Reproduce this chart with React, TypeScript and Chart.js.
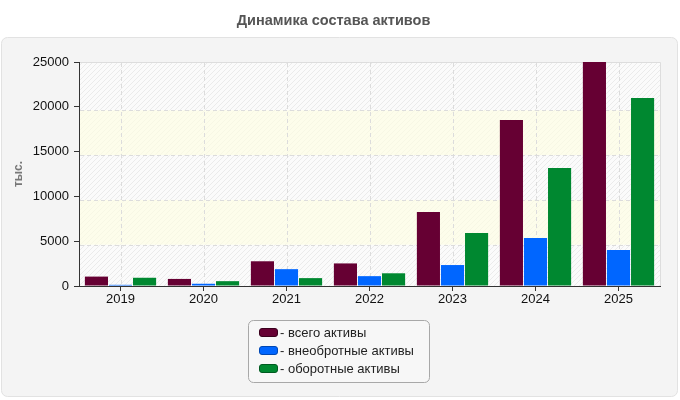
import React, { useEffect, useRef } from 'react';
import { Chart, registerables } from 'chart.js';

Chart.register(...registerables);

const chartTitle = 'Динамика состава активов';
const yAxisTitle = 'тыс.';
const years = ['2019', '2020', '2021', '2022', '2023', '2024', '2025'];
const seriesNames = ['всего активы', 'внеобротные активы', 'оборотные активы'];
const totalAssets = [1050, 790, 2760, 2520, 8260, 18530, 25000];
const nonCurrentAssets = [130, 250, 1880, 1100, 2340, 5360, 4020];
const currentAssets = [920, 540, 880, 1420, 5920, 13170, 20980];
const seriesColors = ['#660033', '#0066ff', '#008830'];
const seriesBorders = ['#3a001d', '#0047b3', '#005a20'];
const yMax = 25000;
const yStep = 5000;

const FONT = "'Liberation Sans', Arial, sans-serif";

function makeHatch(): CanvasPattern | string {
  const c = document.createElement('canvas');
  c.width = 5;
  c.height = 5;
  const g = c.getContext('2d');
  if (!g) return '#fafafa';
  g.fillStyle = '#fbfbfb';
  g.fillRect(0, 0, 5, 5);
  g.strokeStyle = '#ebebeb';
  g.lineWidth = 1;
  g.beginPath();
  g.moveTo(-1, 6);
  g.lineTo(6, -1);
  g.moveTo(-1, 1);
  g.lineTo(1, -1);
  g.moveTo(4, 6);
  g.lineTo(6, 4);
  g.stroke();
  const p = g.createPattern(c, 'repeat');
  return p || '#fafafa';
}

function rr(ctx: CanvasRenderingContext2D, x: number, y: number, w: number, h: number, r: number) {
  ctx.beginPath();
  ctx.moveTo(x + r, y);
  ctx.lineTo(x + w - r, y);
  ctx.arcTo(x + w, y, x + w, y + r, r);
  ctx.lineTo(x + w, y + h - r);
  ctx.arcTo(x + w, y + h, x + w - r, y + h, r);
  ctx.lineTo(x + r, y + h);
  ctx.arcTo(x, y + h, x, y + h - r, r);
  ctx.lineTo(x, y + r);
  ctx.arcTo(x, y, x + r, y, r);
  ctx.closePath();
}

const GRID_SHIFT = 3.5;

const backgroundPlugin = {
  id: 'bgPanel',
  beforeDraw(chart: any) {
    const ctx: CanvasRenderingContext2D = chart.ctx;
    const { left, right, top, bottom } = chart.chartArea;
    const ys = chart.scales.y;
    ctx.save();
    ctx.fillStyle = '#ffffff';
    ctx.fillRect(0, 0, chart.width, chart.height);
    rr(ctx, 1.5, 37.5, 676, 359, 6);
    ctx.fillStyle = '#f4f4f4';
    ctx.fill();
    ctx.strokeStyle = '#e2e2e2';
    ctx.lineWidth = 1;
    ctx.stroke();

    ctx.fillStyle = makeHatch();
    ctx.fillRect(left, top, right - left, bottom - top);

    const vals: number[] = [];
    for (let v = 0; v <= yMax; v += yStep) vals.push(v);
    for (let i = 1; i < vals.length - 1; i += 2) {
      const yLow = Math.min(bottom, ys.getPixelForValue(vals[i]) + GRID_SHIFT);
      const yHigh = Math.max(top, ys.getPixelForValue(vals[i + 1]) + GRID_SHIFT);
      ctx.fillStyle = 'rgba(255,255,225,0.6)';
      ctx.fillRect(left, yHigh, right - left, yLow - yHigh);
    }

    ctx.strokeStyle = '#dddddd';
    ctx.beginPath();
    ctx.moveTo(left, Math.round(top) + 0.5);
    ctx.lineTo(Math.round(right) + 0.5, Math.round(top) + 0.5);
    ctx.lineTo(Math.round(right) + 0.5, bottom);
    ctx.stroke();
    ctx.restore();
  },
  beforeDatasetsDraw(chart: any) {
    const ctx: CanvasRenderingContext2D = chart.ctx;
    const { left, right, top, bottom } = chart.chartArea;
    const ys = chart.scales.y;
    const xs = chart.scales.x;
    ctx.save();
    ctx.strokeStyle = '#dcdcdc';
    ctx.lineWidth = 1;
    ctx.setLineDash([4, 3]);
    for (let v = yStep; v < yMax; v += yStep) {
      const y = Math.round(ys.getPixelForValue(v) + GRID_SHIFT) + 0.5;
      ctx.beginPath();
      ctx.moveTo(left + 1, y);
      ctx.lineTo(right, y);
      ctx.stroke();
    }
    years.forEach((_, i) => {
      const x = Math.round(xs.getPixelForValue(i)) + 0.5;
      ctx.beginPath();
      ctx.moveTo(x, top + 1);
      ctx.lineTo(x, bottom);
      ctx.stroke();
    });
    ctx.restore();
  },
  afterDraw(chart: any) {
    const ctx: CanvasRenderingContext2D = chart.ctx;
    ctx.save();
    rr(ctx, 248.5, 320.5, 181, 62, 5);
    ctx.fillStyle = '#f7f7f7';
    ctx.fill();
    ctx.strokeStyle = '#a8a8a8';
    ctx.lineWidth = 1;
    ctx.stroke();
    ctx.font = `13px ${FONT}`;
    ctx.textBaseline = 'middle';
    ctx.textAlign = 'left';
    chart.data.datasets.forEach((ds: any, i: number) => {
      const cy = 332.5 + i * 18;
      rr(ctx, 259.5, cy - 4, 18, 8, 2.5);
      ctx.fillStyle = ds.backgroundColor;
      ctx.fill();
      ctx.strokeStyle = seriesBorders[i];
      ctx.stroke();
      ctx.fillStyle = '#222222';
      ctx.fillText('- ' + ds.label, 280, cy + 0.5);
    });
    ctx.restore();
  },
};

export default function App() {
  const ref = useRef<HTMLCanvasElement | null>(null);

  useEffect(() => {
    if (!ref.current) return;
    const chart = new Chart(ref.current, {
      type: 'bar',
      data: {
        labels: years,
        datasets: [
          { label: seriesNames[0], data: totalAssets, backgroundColor: seriesColors[0] },
          { label: seriesNames[1], data: nonCurrentAssets, backgroundColor: seriesColors[1] },
          { label: seriesNames[2], data: currentAssets, backgroundColor: seriesColors[2] },
        ],
      },
      options: {
        responsive: false,
        animation: false,
        devicePixelRatio: 1,
        datasets: { bar: { barPercentage: 0.96, categoryPercentage: 0.87, borderWidth: 0 } },
        layout: { padding: { left: 7, right: 20, top: 0, bottom: 0 } },
        plugins: {
          legend: { display: false },
          tooltip: { enabled: false },
          title: {
            display: true,
            text: chartTitle,
            color: '#555555',
            font: { family: FONT, size: 14.5, weight: 'bold' },
            padding: { top: 12, bottom: 32.6 },
          },
        },
        scales: {
          x: {
            grid: { display: true, drawOnChartArea: false, offset: false, tickLength: 5, tickColor: '#333333' },
            border: { display: true, color: '#333333', width: 1 },
            ticks: { color: '#111111', font: { family: FONT, size: 13 }, padding: 1 },
            afterFit(scale: any) {
              scale.height = 114;
            },
          },
          y: {
            min: 0,
            max: yMax,
            grid: { display: true, drawOnChartArea: false, tickLength: 5, tickColor: '#333333' },
            border: { display: true, color: '#333333', width: 1 },
            ticks: {
              stepSize: yStep,
              color: '#111111',
              font: { family: FONT, size: 13 },
              padding: 5,
              callback: (v: any) => String(v),
            },
            title: {
              display: true,
              text: yAxisTitle,
              color: '#777777',
              font: { family: FONT, size: 12, weight: 'bold' },
            },
            afterFit(scale: any) {
              scale.width = 72;
            },
          },
        },
      },
      plugins: [backgroundPlugin],
    } as any);
    return () => chart.destroy();
  }, []);

  return (
    <div style={{ position: 'fixed', left: 0, top: 0, width: 680, height: 400 }}>
      <canvas ref={ref} width={680} height={400} style={{ display: 'block', width: 680, height: 400 }} />
    </div>
  );
}
